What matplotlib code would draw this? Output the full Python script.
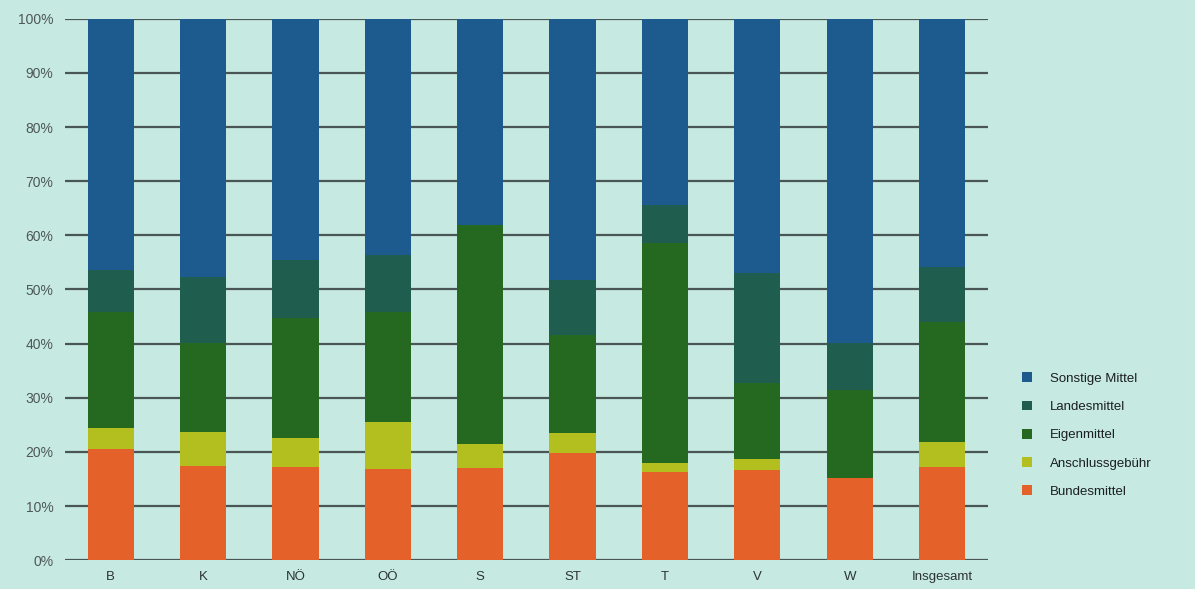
import matplotlib
matplotlib.use("Agg")
import matplotlib.pyplot as plt
from matplotlib.patches import Patch
import numpy as np

plt.rcParams['font.family'] = ['Liberation Sans', 'DejaVu Sans']

categories = ["B", "K", "NÖ", "OÖ", "S", "ST", "T", "V", "W", "Insgesamt"]

# Shares in percent, stacked from bottom to top
bundesmittel = [20.5, 17.4, 17.2, 16.8, 17.0, 19.8, 16.3, 16.6, 15.2, 17.2]
anschlussgebuehr = [3.9, 6.3, 5.4, 8.7, 4.4, 3.7, 1.6, 2.1, 0.0, 4.6]
eigenmittel = [21.4, 16.4, 22.1, 20.3, 40.5, 18.1, 40.7, 14.0, 16.2, 22.2]
landesmittel = [7.8, 12.2, 10.8, 10.6, 0.0, 10.2, 7.0, 20.3, 8.7, 10.2]
sonstige_mittel = [100 - (a + b + c + d) for a, b, c, d in
                   zip(bundesmittel, anschlussgebuehr, eigenmittel, landesmittel)]

series = [
    ("Bundesmittel", bundesmittel, "#e4622a"),
    ("Anschlussgebühr", anschlussgebuehr, "#b3bf1f"),
    ("Eigenmittel", eigenmittel, "#24691f"),
    ("Landesmittel", landesmittel, "#1f5e4f"),
    ("Sonstige Mittel", sonstige_mittel, "#1d5a8d"),
]

bg = "#c6e9e2"
fig = plt.figure(figsize=(11.95, 5.89), dpi=100, facecolor=bg)
ax = fig.add_axes([0.054, 0.049, 0.773, 0.919], facecolor=bg)

x = np.arange(len(categories))
bottom = np.zeros(len(categories))
for name, vals, color in series:
    vals = np.array(vals, dtype=float)
    ax.bar(x, vals, width=0.5, bottom=bottom, color=color, zorder=3, linewidth=0)
    bottom += vals

ax.set_xlim(-0.5, len(categories) - 0.5)
ax.set_ylim(0, 100)
ax.set_yticks(np.arange(0, 101, 10))
ax.set_yticklabels([f"{v}%" for v in range(0, 101, 10)])
ax.set_xticks(x)
ax.set_xticklabels(categories)
ax.yaxis.grid(True, color="#4a5654", linewidth=1.6, zorder=0)
ax.set_axisbelow(True)
for s in ax.spines.values():
    s.set_visible(False)
ax.tick_params(axis="y", length=0, pad=8, labelsize=10, labelcolor="#4e5856")
ax.tick_params(axis="x", length=0, pad=8, labelsize=9.5, labelcolor="#2c3432")

handles = [Patch(facecolor=c, edgecolor="none", label=n) for n, _, c in reversed(series)]
leg = fig.legend(handles=handles, loc="upper left", bbox_to_anchor=(0.845, 0.388),
                 frameon=False, fontsize=9.5, handlelength=0.75, handleheight=0.75,
                 handletextpad=1.4, labelspacing=1.2)
for t in leg.get_texts():
    t.set_color("#1a1f1e")

fig.savefig("out.png", dpi=100, facecolor=bg)
